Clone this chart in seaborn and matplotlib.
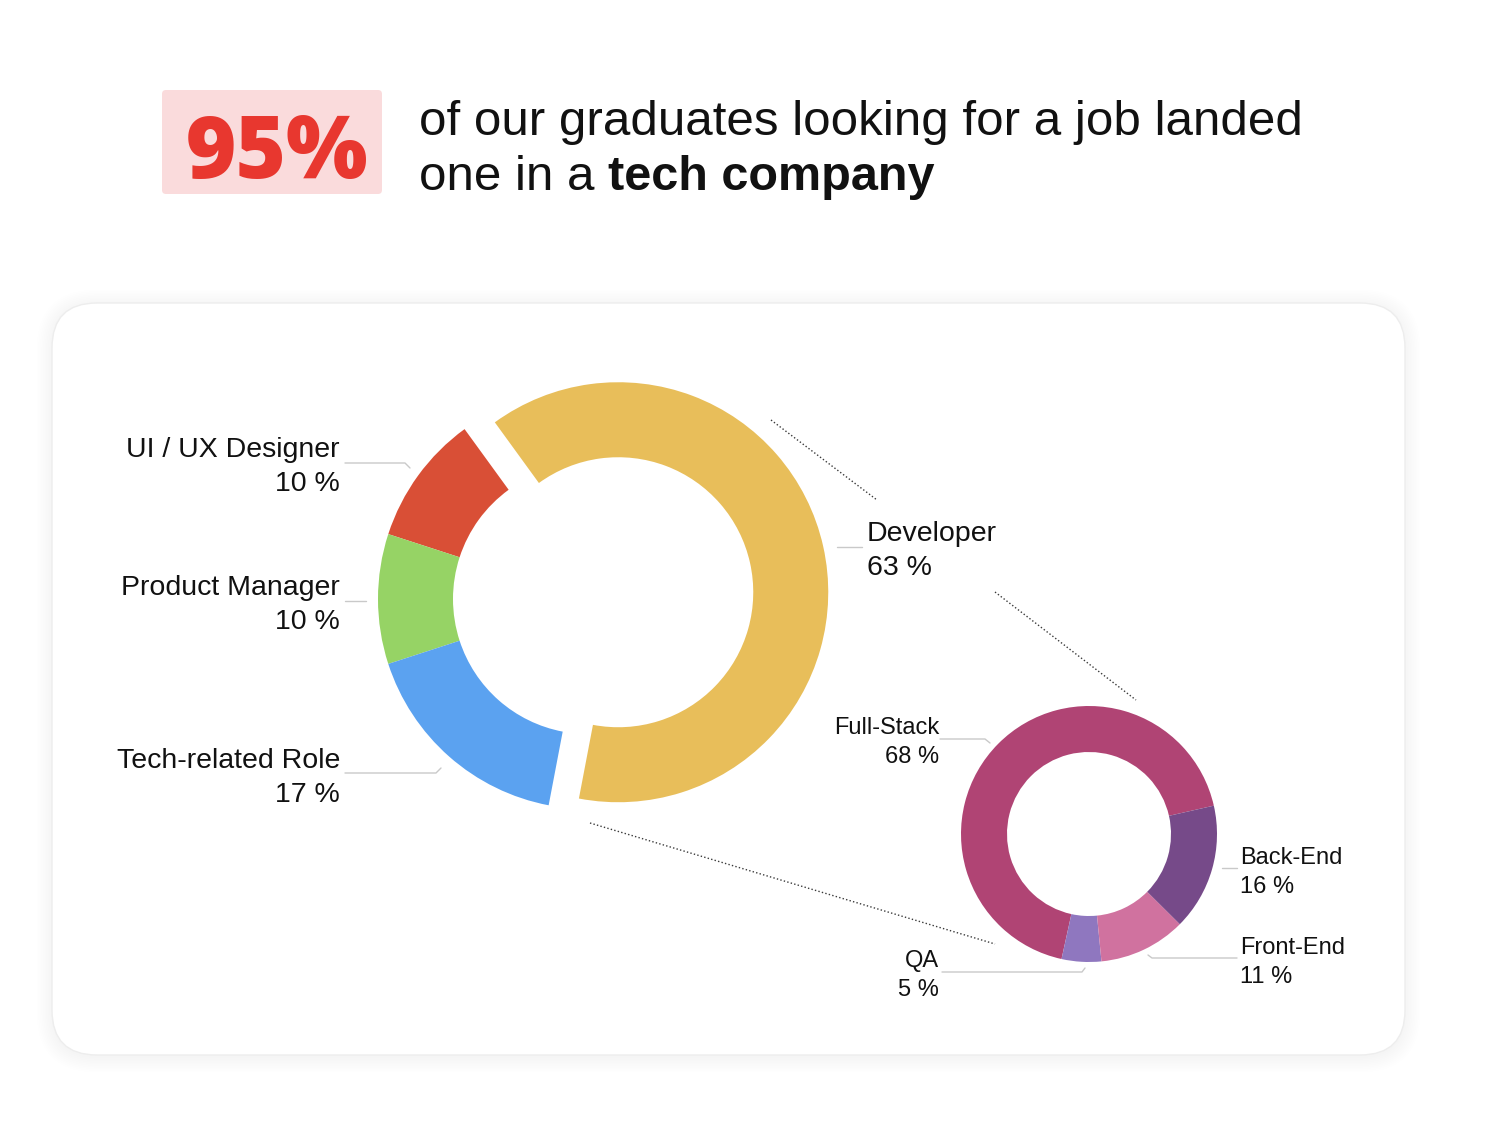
import matplotlib
matplotlib.use("Agg")
import matplotlib.pyplot as plt
from matplotlib.patches import FancyBboxPatch
import seaborn as sns

# ---------------- data ----------------
main_roles = ["UI / UX Designer", "Product Manager", "Tech-related Role", "Developer"]
main_share = [10, 10, 17, 63]
main_colors = ["#D94F36", "#96D365", "#5BA2F0", "#E8BE5A"]

dev_roles = ["Full-Stack", "QA", "Front-End", "Back-End"]
dev_share = [68, 5, 11, 16]
dev_colors = ["#B04474", "#8F77BF", "#D0729F", "#764A89"]

headline_value = "95%"
headline_line1 = "of our graduates looking for a job landed"
headline_line2a = "one in a"
headline_line2b = "tech company"

# ---------------- setup ----------------
W, H = 1486, 1122
sns.set_theme(style="white")
plt.rcParams['font.family'] = ['Liberation Sans', 'DejaVu Sans']

fig = plt.figure(figsize=(W / 100, H / 100), dpi=100)
fig.patch.set_facecolor("white")
ax = fig.add_axes([0, 0, 1, 1])


def P(x, y):
    """pixel (top-left origin) -> data coords (bottom-left origin)"""
    return (x, H - y)


# ---------------- card with soft shadow ----------------
cx0, cy0, cx1, cy1 = 52, 303, 1405, 1055
for i in range(10):
    pad = 1 + i * 1.6
    ax.add_patch(FancyBboxPatch(P(cx0, cy1 + 2), cx1 - cx0, cy1 - cy0,
                                boxstyle=f"round,pad={pad},rounding_size={45 + pad}",
                                facecolor="#000000", edgecolor="none",
                                alpha=0.0028, zorder=0))
ax.add_patch(FancyBboxPatch(P(cx0, cy1), cx1 - cx0, cy1 - cy0,
                            boxstyle="round,pad=0,rounding_size=45",
                            facecolor="white", edgecolor="#EDEDED", lw=1.0, zorder=1))

# ---------------- header ----------------
ax.add_patch(FancyBboxPatch(P(162, 194), 220, 104,
                            boxstyle="round,pad=0,rounding_size=4",
                            facecolor="#FADBDC", edgecolor="none", zorder=1))
ax.text(*P(277, 178), headline_value, ha="center", va="baseline",
        fontsize=62, fontweight="heavy", color="#E8372F",
        family=["Open Sans", "DejaVu Sans"], zorder=2)
ax.text(*P(419, 135), headline_line1, ha="left", va="baseline",
        fontsize=35.5, color="#111111", zorder=2)
t2 = ax.text(*P(419, 190), headline_line2a, ha="left", va="baseline",
             fontsize=35.5, color="#111111", zorder=2)

# ---------------- donuts ----------------
big_center, big_R, big_w = P(588, 599), 210, 75
small_center, small_R, small_w = P(1089, 834), 128, 46

ax.pie(main_share, colors=main_colors, startangle=126, counterclock=True,
       radius=big_R, center=big_center,
       explode=[0, 0, 0, 31],
       wedgeprops=dict(width=big_w, linewidth=0))
ax.pie(dev_share, colors=dev_colors, startangle=12.8, counterclock=True,
       radius=small_R, center=small_center,
       wedgeprops=dict(width=small_w, linewidth=0))

ax.set_xlim(0, W)
ax.set_ylim(0, H)
ax.set_aspect("auto")
ax.axis("off")

# ---------------- dotted connectors ----------------
for seg in [[(771, 420), (877, 500)], [(995, 592), (1136, 700)], [(590, 823), (995, 944)]]:
    xs, ys = zip(*[P(*p) for p in seg])
    ax.plot(xs, ys, color="#3a3a3a", lw=1.0, ls=(0, (1, 1.6)), zorder=3)

# ---------------- labels ----------------
lead_col = "#C9C9C9"
main_layout = {
    "UI / UX Designer": dict(ha="right", x=340, y=447, line=[(345, 463), (405, 463), (410, 468)]),
    "Product Manager": dict(ha="right", x=340, y=585, line=[(345, 601), (366, 601)]),
    "Tech-related Role": dict(ha="right", x=340, y=758, line=[(345, 773), (436, 773), (441, 768)]),
    "Developer": dict(ha="left", x=867, y=531, line=[(837, 547), (862, 547)]),
}
for role, share in zip(main_roles, main_share):
    L = main_layout[role]
    ax.text(*P(L["x"], L["y"] + 10), role, ha=L["ha"], va="baseline",
            fontsize=20.5, color="#111111", zorder=4)
    ax.text(*P(L["x"], L["y"] + 44), f"{share} %", ha=L["ha"], va="baseline",
            fontsize=20.5, color="#111111", zorder=4)
    xs, ys = zip(*[P(*p) for p in L["line"]])
    ax.plot(xs, ys, color=lead_col, lw=1.0, zorder=3)

dev_layout = {
    "Full-Stack": dict(ha="right", x=939, y=726, line=[(940, 739), (985, 739), (990, 743)]),
    "QA": dict(ha="right", x=939, y=959, line=[(942, 972), (1082, 972), (1085, 968)]),
    "Front-End": dict(ha="left", x=1240, y=946, line=[(1237, 958), (1152, 958), (1148, 955)]),
    "Back-End": dict(ha="left", x=1240, y=856, line=[(1222, 868), (1237, 868)]),
}
for role, share in zip(dev_roles, dev_share):
    L = dev_layout[role]
    ax.text(*P(L["x"], L["y"] + 8.5), role, ha=L["ha"], va="baseline",
            fontsize=17, color="#111111", zorder=4)
    ax.text(*P(L["x"], L["y"] + 37), f"{share} %", ha=L["ha"], va="baseline",
            fontsize=17, color="#111111", zorder=4)
    xs, ys = zip(*[P(*p) for p in L["line"]])
    ax.plot(xs, ys, color=lead_col, lw=1.0, zorder=3)

# bold continuation of the headline
renderer = fig.canvas.get_renderer()
bb = t2.get_window_extent(renderer=renderer)
ax.text(bb.x1 + 13, H - 190, headline_line2b, ha="left", va="baseline",
        fontsize=35, fontweight="bold", color="#111111", zorder=2)

fig.savefig("out.png", dpi=100, facecolor="white")
